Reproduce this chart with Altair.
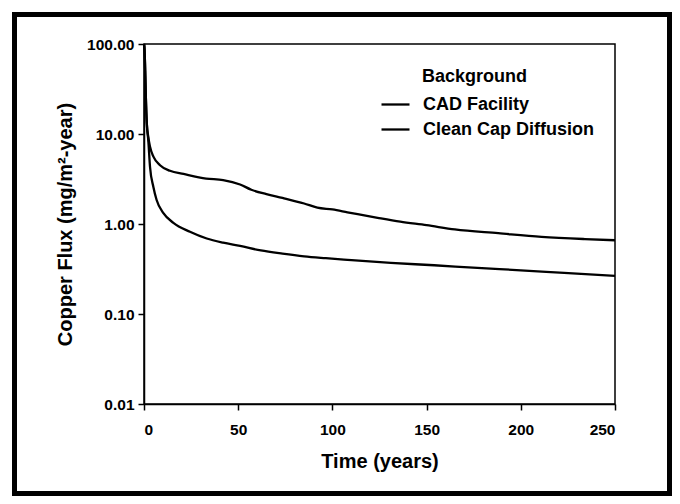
import altair as alt
import pandas as pd

# Data
cad_t = [0, 0.3, 0.7, 1.0, 1.5, 2.2, 3.2, 5, 8.5, 13.8, 21, 33, 42, 51, 57, 65, 73.5, 85, 92, 100, 108, 124, 136, 150, 165, 188, 211, 234, 250]
cad_v = [100, 85, 45, 25, 13, 9.5, 7.2, 5.6, 4.5, 3.9, 3.6, 3.2, 3.08, 2.75, 2.4, 2.15, 1.95, 1.69, 1.52, 1.45, 1.35, 1.17, 1.06, 0.97, 0.87, 0.79, 0.72, 0.68, 0.66]
clean_t = [0, 0.3, 0.7, 1.0, 1.5, 2.3, 3.2, 4.95, 6.7, 10.3, 15.6, 24.4, 33.3, 42, 51, 62, 73.5, 85, 96.5, 108, 131, 154, 177, 200, 223, 250]
clean_v = [100, 85, 45, 25, 13, 8.4, 4.3, 2.6, 1.85, 1.32, 1.03, 0.82, 0.69, 0.62, 0.57, 0.508, 0.468, 0.437, 0.417, 0.40, 0.37, 0.348, 0.325, 0.306, 0.286, 0.265]
series_names = ["CAD Facility", "Clean Cap Diffusion"]
legend_title = ["Background"]
x_ticks = [0, 50, 100, 150, 200, 250]
y_ticks = [0.01, 0.1, 1, 10, 100]

df = pd.concat([
    pd.DataFrame({"t": cad_t, "v": cad_v, "s": series_names[0]}),
    pd.DataFrame({"t": clean_t, "v": clean_v, "s": series_names[1]}),
])

FONT = "Liberation Sans"

lines = alt.Chart(df).mark_line(strokeWidth=2.3, interpolate="monotone").encode(
    x=alt.X("t:Q", scale=alt.Scale(domain=[0, 250], nice=False),
            axis=alt.Axis(values=x_ticks, format="d", title="Time (years)",
                          grid=False, tickSize=6, labelPadding=12, titlePadding=14)),
    y=alt.Y("v:Q", scale=alt.Scale(type="log", domain=[0.01, 100], nice=False),
            axis=alt.Axis(values=y_ticks, format=".2f",
                          title="Copper Flux (mg/m²-year)",
                          grid=False, tickSize=6, labelPadding=4, titlePadding=11)),
    color=alt.Color("s:N", sort=series_names,
                    scale=alt.Scale(domain=series_names, range=["black", "black"]),
                    legend=alt.Legend(title=None, orient="none", legendX=236, legendY=45,
                                      symbolType="stroke", symbolSize=784, symbolStrokeWidth=2.3,
                                      labelFont=FONT, labelFontSize=18, labelFontWeight="bold",
                                      labelColor="black", labelOffset=12, rowPadding=-4,
                                      labelLimit=400, padding=0)),
    order=alt.Order("t:Q"),
)

title_text = alt.Chart(pd.DataFrame({"label": legend_title})).mark_text(
    align="left", baseline="middle", font=FONT, fontSize=18, fontWeight="bold", color="black"
).encode(
    text="label:N", x=alt.value(278), y=alt.value(33),
)

frame = alt.Chart(pd.DataFrame({"a": [0]})).mark_rect(
    fill=None, stroke="black", strokeWidth=5
).encode(
    x=alt.value(-129.5), x2=alt.value(525.5),
    y=alt.value(-29.5), y2=alt.value(449.5),
)

chart = alt.layer(lines, title_text, frame).properties(
    width=471, height=360,
    autosize=alt.AutoSizeParams(type="none"),
    padding={"left": 136, "top": 36, "right": 57, "bottom": 92},
).configure_axis(
    labelFont=FONT, labelFontSize=15.5, labelFontWeight="bold", labelColor="black",
    titleFont=FONT, titleFontSize=20, titleFontWeight="bold", titleColor="black",
    domainColor="black", domainWidth=1.5, tickColor="black", tickWidth=1.5,
).configure_view(
    stroke="black", strokeWidth=1.5
)

chart.save("out.html", embed_options={"renderer": "svg", "actions": False})
